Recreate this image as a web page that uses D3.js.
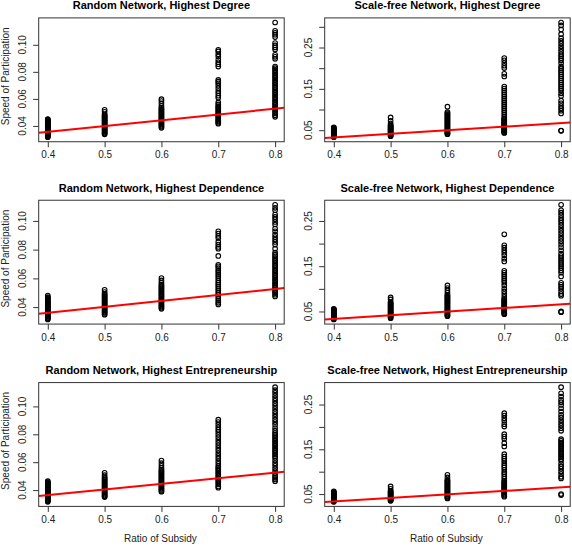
<!DOCTYPE html>
<html><head><meta charset="utf-8">
<script src="https://cdn.jsdelivr.net/npm/d3@7"></script>
<style>body{margin:0;background:#fff}svg{display:block}</style>
</head><body><svg id="c" width="572" height="547"></svg>
<script>
const subsidy = [0.4, 0.5, 0.6, 0.7, 0.8];
const xTickLabels = ["0.4", "0.5", "0.6", "0.7", "0.8"];
const titles = [
  "Random Network, Highest Degree", "Scale-free Network, Highest Degree",
  "Random Network, Highest Dependence", "Scale-free Network, Highest Dependence",
  "Random Network, Highest Entrepreneurship", "Scale-free Network, Highest Entrepreneurship"];

const randomDegree = [
  [0.0450,0.0446,0.0441,0.0437,0.0432,0.0428,0.0423,0.0419,0.0414,0.0409,0.0405,0.0400,0.0396,0.0391,0.0386,0.0382,0.0377,0.0373,0.0368,0.0363,0.0359,0.0354,0.0350,0.0345,0.0341,0.0336,0.0331,0.0327,0.0322,0.0317],
  [0.0519,0.0505,0.0486,0.0479,0.0472,0.0466,0.0459,0.0452,0.0446,0.0440,0.0433,0.0427,0.0420,0.0414,0.0407,0.0401,0.0394,0.0388,0.0381,0.0375,0.0368,0.0362,0.0356,0.0349,0.0343,0.0338],
  [0.0598,0.0584,0.0567,0.0549,0.0535,0.0527,0.0519,0.0511,0.0503,0.0496,0.0488,0.0480,0.0472,0.0465,0.0457,0.0449,0.0441,0.0434,0.0426,0.0418,0.0410,0.0402,0.0394,0.0386],
  [0.0963,0.0951,0.0931,0.0913,0.0889,0.0871,0.0856,0.0839,0.0740,0.0727,0.0715,0.0698,0.0678,0.0658,0.0641,0.0623,0.0608,0.0574,0.0559,0.0547,0.0537,0.0528,0.0518,0.0508,0.0499,0.0489,0.0479,0.0469,0.0460,0.0450,0.0441,0.0432,0.0424,0.0417],
  [0.1165,0.1104,0.1089,0.1075,0.1057,0.1013,0.0995,0.0980,0.0965,0.0926,0.0911,0.0896,0.0839,0.0827,0.0814,0.0802,0.0789,0.0777,0.0765,0.0752,0.0740,0.0727,0.0715,0.0703,0.0690,0.0678,0.0665,0.0653,0.0641,0.0628,0.0616,0.0603,0.0591,0.0579,0.0566,0.0554,0.0541,0.0529,0.0517,0.0504,0.0492,0.0479,0.0467]];

const scaleFreeDegree = [
  [0.0570,0.0555,0.0540,0.0525,0.0510,0.0495,0.0480,0.0465,0.0450,0.0435,0.0420,0.0405,0.0390,0.0375,0.0360,0.0345,0.0332],
  [0.0809,0.0727,0.0662,0.0622,0.0605,0.0588,0.0571,0.0554,0.0537,0.0520,0.0503,0.0486,0.0469,0.0452,0.0435,0.0418,0.0401,0.0384,0.0368,0.0354],
  [0.1068,0.0938,0.0915,0.0892,0.0869,0.0846,0.0823,0.0800,0.0777,0.0754,0.0731,0.0708,0.0685,0.0662,0.0639,0.0616,0.0593,0.0570,0.0547,0.0524,0.0501,0.0478,0.0455,0.0432,0.0415,0.0403],
  [0.2246,0.2189,0.2124,0.2059,0.2002,0.1864,0.1799,0.1556,0.1507,0.1458,0.1409,0.1361,0.1312,0.1263,0.1215,0.1166,0.1117,0.1068,0.1020,0.0971,0.0922,0.0874,0.0825,0.0784,0.0744,0.0703,0.0662,0.0622,0.0581,0.0541,0.0500,0.0459,0.0435,0.0765,0.0723,0.0683,0.0642,0.0601,0.0561,0.0520,0.0480,0.0447],
  [0.3105,0.3033,0.2936,0.2822,0.2725,0.2660,0.2595,0.2530,0.2465,0.2400,0.2335,0.2286,0.2238,0.2189,0.2124,0.2043,0.1994,0.1945,0.1897,0.1848,0.1799,0.1750,0.1702,0.1653,0.1604,0.1556,0.1507,0.1458,0.1393,0.1328,0.1215,0.1150,0.1085,0.1028,0.0971,0.0906,0.0492,0.0485]];

const randomDependence = [
  [0.0481,0.0470,0.0464,0.0458,0.0452,0.0446,0.0440,0.0434,0.0428,0.0422,0.0416,0.0410,0.0404,0.0398,0.0392,0.0386,0.0380,0.0374,0.0368,0.0362,0.0356,0.0350,0.0344,0.0338,0.0332,0.0326,0.0320,0.0314],
  [0.0521,0.0505,0.0493,0.0486,0.0479,0.0472,0.0465,0.0458,0.0451,0.0444,0.0437,0.0430,0.0423,0.0416,0.0409,0.0402,0.0395,0.0388,0.0381,0.0374,0.0367,0.0360,0.0353,0.0347],
  [0.0602,0.0586,0.0570,0.0556,0.0548,0.0540,0.0532,0.0524,0.0516,0.0508,0.0500,0.0492,0.0484,0.0476,0.0468,0.0460,0.0452,0.0444,0.0436,0.0428,0.0420,0.0412,0.0404,0.0396,0.0388],
  [0.0928,0.0912,0.0895,0.0881,0.0854,0.0835,0.0819,0.0807,0.0756,0.0695,0.0684,0.0672,0.0656,0.0644,0.0630,0.0616,0.0602,0.0586,0.0570,0.0556,0.0542,0.0528,0.0514,0.0500,0.0486,0.0472,0.0458,0.0444,0.0430,0.0419],
  [0.1112,0.1091,0.1075,0.1044,0.1028,0.1012,0.0993,0.0975,0.0947,0.0928,0.0905,0.0888,0.0870,0.0854,0.0835,0.0807,0.0779,0.0765,0.0754,0.0742,0.0730,0.0719,0.0707,0.0695,0.0684,0.0672,0.0660,0.0649,0.0637,0.0626,0.0614,0.0602,0.0591,0.0579,0.0567,0.0556,0.0544,0.0533,0.0521,0.0509,0.0498,0.0486,0.0474]];

const scaleFreeDependence = [
  [0.0559,0.0545,0.0530,0.0515,0.0500,0.0485,0.0470,0.0455,0.0440,0.0425,0.0410,0.0395,0.0380,0.0365,0.0350,0.0336,0.0323],
  [0.0810,0.0766,0.0707,0.0688,0.0669,0.0650,0.0631,0.0612,0.0593,0.0574,0.0555,0.0536,0.0517,0.0498,0.0479,0.0460,0.0441,0.0422,0.0403,0.0384,0.0367,0.0352],
  [0.1076,0.1017,0.0965,0.0913,0.0869,0.0848,0.0827,0.0806,0.0785,0.0764,0.0743,0.0722,0.0701,0.0680,0.0659,0.0638,0.0617,0.0596,0.0575,0.0554,0.0533,0.0512,0.0491,0.0470,0.0449,0.0428,0.0410,0.0397],
  [0.2205,0.1961,0.1910,0.1851,0.1799,0.1740,0.1666,0.1607,0.1400,0.1356,0.1312,0.1268,0.1223,0.1179,0.1135,0.1076,0.1002,0.0943,0.0884,0.0825,0.0780,0.0736,0.0692,0.0648,0.0603,0.0559,0.0515,0.0470,0.0441,0.0758,0.0714,0.0670,0.0625,0.0581,0.0537,0.0492,0.0455],
  [0.2857,0.2736,0.2684,0.2625,0.2566,0.2515,0.2463,0.2404,0.2345,0.2286,0.2227,0.2168,0.2109,0.2050,0.1991,0.1924,0.1851,0.1777,0.1725,0.1681,0.1637,0.1593,0.1548,0.1504,0.1460,0.1408,0.1356,0.1275,0.1135,0.1090,0.1046,0.1002,0.0943,0.0884,0.0847,0.0500,0.0485]];

const randomEntrepreneurship = [
  [0.0464,0.0458,0.0452,0.0446,0.0440,0.0434,0.0428,0.0422,0.0416,0.0410,0.0404,0.0398,0.0392,0.0386,0.0380,0.0374,0.0368,0.0362,0.0356,0.0350,0.0344,0.0338,0.0332,0.0326,0.0321,0.0316],
  [0.0524,0.0507,0.0493,0.0486,0.0479,0.0472,0.0465,0.0458,0.0451,0.0444,0.0437,0.0430,0.0423,0.0416,0.0409,0.0402,0.0395,0.0388,0.0381,0.0374,0.0367,0.0360,0.0355,0.0350],
  [0.0612,0.0593,0.0574,0.0559,0.0545,0.0537,0.0529,0.0521,0.0513,0.0505,0.0497,0.0489,0.0481,0.0473,0.0465,0.0457,0.0449,0.0441,0.0433,0.0425,0.0417,0.0409,0.0401,0.0394,0.0388],
  [0.0905,0.0888,0.0869,0.0850,0.0833,0.0817,0.0797,0.0778,0.0759,0.0740,0.0721,0.0702,0.0683,0.0664,0.0645,0.0626,0.0607,0.0588,0.0571,0.0559,0.0548,0.0536,0.0524,0.0512,0.0500,0.0488,0.0476,0.0464,0.0452,0.0440,0.0426,0.0417],
  [0.1138,0.1116,0.1097,0.1078,0.1059,0.1040,0.1021,0.1002,0.0983,0.0964,0.0945,0.0926,0.0907,0.0888,0.0869,0.0845,0.0826,0.0809,0.0797,0.0786,0.0774,0.0762,0.0750,0.0738,0.0726,0.0714,0.0702,0.0690,0.0678,0.0667,0.0655,0.0643,0.0631,0.0612,0.0593,0.0574,0.0555,0.0536,0.0517,0.0500,0.0488,0.0476,0.0464]];

const scaleFreeEntrepreneurship = [
  [0.0559,0.0544,0.0529,0.0514,0.0499,0.0484,0.0469,0.0454,0.0439,0.0424,0.0409,0.0394,0.0379,0.0364,0.0349,0.0335,0.0327],
  [0.0671,0.0619,0.0574,0.0557,0.0540,0.0523,0.0506,0.0489,0.0472,0.0455,0.0438,0.0421,0.0404,0.0387,0.0370,0.0358,0.0348],
  [0.0931,0.0872,0.0819,0.0799,0.0779,0.0759,0.0739,0.0719,0.0699,0.0679,0.0659,0.0639,0.0619,0.0599,0.0579,0.0559,0.0539,0.0519,0.0499,0.0479,0.0459,0.0439,0.0419,0.0403],
  [0.2306,0.2254,0.2194,0.2135,0.2060,0.2008,0.1837,0.1785,0.1733,0.1637,0.1562,0.1392,0.1339,0.1288,0.1243,0.1191,0.1139,0.1094,0.1042,0.0990,0.0946,0.0894,0.0842,0.0797,0.0753,0.0708,0.0663,0.0619,0.0574,0.0530,0.0485,0.0441,0.0775,0.0730,0.0686,0.0641,0.0597,0.0552,0.0508,0.0463],
  [0.2888,0.2751,0.2677,0.2603,0.2551,0.2491,0.2417,0.2343,0.2268,0.2209,0.2149,0.2090,0.2031,0.1971,0.1912,0.1726,0.1689,0.1652,0.1615,0.1577,0.1540,0.1503,0.1466,0.1429,0.1392,0.1354,0.1317,0.1280,0.1243,0.1169,0.1117,0.1065,0.1005,0.0946,0.0886,0.0849,0.0500,0.0478]];

// fitted regression lines (intercept, slope) per panel
const lineIntercepts = [0.01868, -0.00188, 0.01947, 0.00150, 0.02031, 0.00193];
const lineSlopes = [0.04255, 0.0865, 0.0414, 0.0803, 0.04017, 0.0789];

const yTicksRandom = [0.04, 0.06, 0.08, 0.10];
const yLabelsRandom = ["0.04", "0.06", "0.08", "0.10"];
const yTicksScaleFree = [0.05, 0.10, 0.15, 0.20, 0.25, 0.30];
const yLabelsScaleFree = ["0.05", "", "0.15", "", "0.25", ""];

const panelData = [randomDegree, scaleFreeDegree, randomDependence, scaleFreeDependence, randomEntrepreneurship, scaleFreeEntrepreneurship];

const W = 572, H = 547;
const figW = W / 2, figH = H / 3;
const mar = {left: 38.7, right: 1.8, top: 17.9, bottom: 40.6};
const FONT = "'Liberation Sans', Arial, Helvetica, sans-serif";
const svg = d3.select("#c");
svg.append("rect").attr("width", W).attr("height", H).attr("fill", "#fff");

function pad(ext) { const d = (ext[1] - ext[0]) * 0.04; return [ext[0] - d, ext[1] + d]; }

panelData.forEach((cols, p) => {
  const col = p % 2, row = Math.floor(p / 2);
  const ox = col * figW, oy = row * figH;
  const x0 = ox + mar.left, x1 = ox + figW - mar.right;
  const y0 = oy + mar.top, y1 = oy + figH - mar.bottom;
  const allVals = cols.flat();
  const x = d3.scaleLinear().domain(pad(d3.extent(subsidy))).range([x0, x1]);
  const y = d3.scaleLinear().domain(pad(d3.extent(allVals))).range([y1, y0]);
  const g = svg.append("g");

  const clipId = "clip" + p;
  svg.append("clipPath").attr("id", clipId).append("rect")
    .attr("x", x0).attr("y", y0).attr("width", x1 - x0).attr("height", y1 - y0);

  // points
  const pts = [];
  cols.forEach((vals, i) => vals.forEach(v => pts.push([subsidy[i], v])));
  g.append("g").selectAll("circle").data(pts).join("circle")
    .attr("cx", d => x(d[0])).attr("cy", d => y(d[1])).attr("r", 2.3)
    .attr("fill", "none").attr("stroke", "#000").attr("stroke-width", 1.1);

  // regression line
  const xd = x.domain();
  g.append("line").attr("clip-path", `url(#${clipId})`)
    .attr("x1", x(xd[0])).attr("y1", y(lineIntercepts[p] + lineSlopes[p] * xd[0]))
    .attr("x2", x(xd[1])).attr("y2", y(lineIntercepts[p] + lineSlopes[p] * xd[1]))
    .attr("stroke", "#ff0000").attr("stroke-width", 2);

  // box
  g.append("rect").attr("x", x0).attr("y", y0).attr("width", x1 - x0).attr("height", y1 - y0)
    .attr("fill", "none").attr("stroke", "#333").attr("stroke-width", 1);

  // x axis
  const xAxis = d3.axisBottom(x).tickValues(subsidy).tickFormat((d, i) => xTickLabels[i]).tickSize(5.5).tickPadding(4);
  const xg = g.append("g").attr("transform", `translate(0,${y1})`).call(xAxis);
  xg.select(".domain").remove();
  xg.selectAll("line").attr("stroke", "#333");
  xg.selectAll("text").attr("font-family", FONT).attr("font-size", 10).attr("fill", "#222");

  // y axis
  const isRandom = col === 0;
  const yt = (isRandom ? yTicksRandom : yTicksScaleFree);
  const yl = (isRandom ? yLabelsRandom : yLabelsScaleFree);
  const yd = y.domain();
  const ticksIn = yt.map((t, i) => [t, yl[i]]).filter(d => d[0] >= yd[0] && d[0] <= yd[1]);
  const yAxis = d3.axisLeft(y).tickValues(ticksIn.map(d => d[0])).tickFormat(() => "").tickSize(5.5);
  const yg = g.append("g").attr("transform", `translate(${x0},0)`).call(yAxis);
  yg.select(".domain").remove();
  yg.selectAll("line").attr("stroke", "#333");
  g.append("g").selectAll("text").data(ticksIn).join("text")
    .attr("transform", d => `translate(${x0 - 12.3},${y(d[0])}) rotate(-90)`)
    .attr("text-anchor", "middle").attr("font-family", FONT).attr("font-size", 10).attr("fill", "#222")
    .text(d => d[1]);

  // title
  g.append("text").attr("x", (x0 + x1) / 2).attr("y", oy + 9.3)
    .attr("text-anchor", "middle").attr("font-family", FONT).attr("font-weight", "bold")
    .attr("font-size", 11).attr("fill", "#000").text(titles[p]);

  if (col === 0) {
    g.append("text").attr("transform", `translate(${ox + 9},${(y0 + y1) / 2 - 3.5}) rotate(-90)`)
      .attr("text-anchor", "middle").attr("font-family", FONT).attr("font-size", 10).attr("fill", "#222")
      .text("Speed of Participation");
  }
  if (row === 2) {
    g.append("text").attr("x", (x0 + x1) / 2 - 1).attr("y", oy + figH - 5)
      .attr("text-anchor", "middle").attr("font-family", FONT).attr("font-size", 10).attr("fill", "#222")
      .text("Ratio of Subsidy");
  }
});
</script></body></html>
